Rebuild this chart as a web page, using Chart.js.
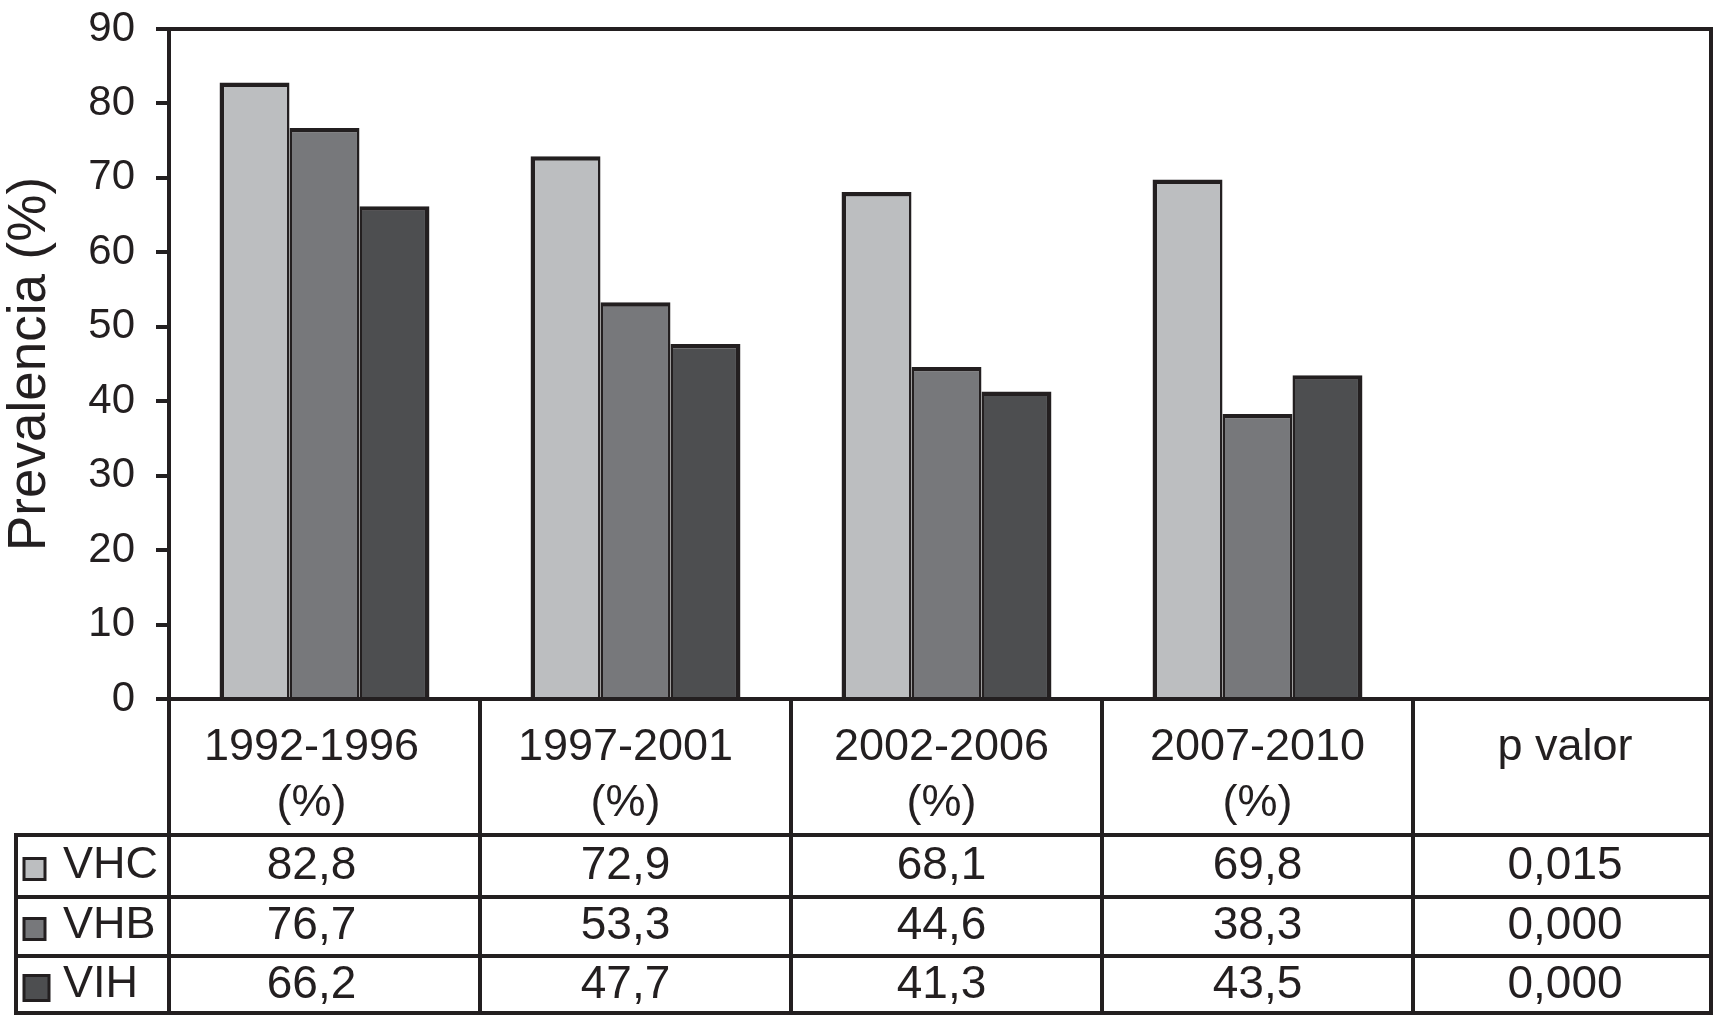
<!DOCTYPE html>
<html>
<head>
<meta charset="utf-8">
<script src="https://cdn.jsdelivr.net/npm/chart.js@4.4.1/dist/chart.umd.min.js"></script>
<style>
  html, body { margin: 0; padding: 0; background: #fff; }
  canvas { display: block; }
</style>
</head>
<body>
<canvas id="chart-prev" width="1714" height="1021" style="width:1714px;height:1021px"></canvas>
<script>
var periods = ["1992-1996", "1997-2001", "2002-2006", "2007-2010"];
var vhc = [82.8, 72.9, 68.1, 69.8];
var vhb = [76.7, 53.3, 44.6, 38.3];
var vih = [66.2, 47.7, 41.3, 43.5];
var seriesNames = ["VHC", "VHB", "VIH"];
var pValues = ["0,015", "0,000", "0,000"];
var pHeader = "p valor";
var unitLine = "(%)";

var ink = "#231f20";
var fills = ["#bcbec0", "#77787b", "#4d4e50"];
var font = "'Liberation Sans', Arial, Helvetica, sans-serif";
// el texto de la tabla no esta centrado del todo en cada columna
var textShift = [-13, -10, -5, 0];

function fmt(v) { return v.toFixed(1).replace(".", ","); }

// tabla debajo del grafico + marco
const tablePlugin = {
  id: "tablePlugin",
  afterDraw(chart) {
    const ctx = chart.ctx;
    const area = chart.chartArea;
    const x = chart.scales.x;
    const boxRight = 1711;
    const rows = [835, 897, 956, 1013];
    const tableLeft = 16;

    // limites de columnas
    const bounds = [area.left];
    for (let i = 0; i < periods.length - 1; i++) {
      bounds.push((x.getPixelForValue(i) + x.getPixelForValue(i + 1)) / 2);
    }
    bounds.push(area.right);

    ctx.save();
    ctx.strokeStyle = ink;
    ctx.lineWidth = 4;
    ctx.lineCap = "square";

    ctx.beginPath();
    // marco superior y derecho
    ctx.moveTo(area.left, area.top);
    ctx.lineTo(boxRight, area.top);
    ctx.lineTo(boxRight, rows[3]);
    // linea del cero
    ctx.moveTo(area.left, area.bottom);
    ctx.lineTo(boxRight, area.bottom);
    // eje izquierdo hasta abajo
    ctx.moveTo(area.left, area.top);
    ctx.lineTo(area.left, rows[3]);
    // columnas
    bounds.forEach(b => { ctx.moveTo(b, area.bottom); ctx.lineTo(b, rows[3]); });
    // filas
    rows.forEach(r => { ctx.moveTo(tableLeft, r); ctx.lineTo(boxRight, r); });
    ctx.moveTo(tableLeft, rows[0]);
    ctx.lineTo(tableLeft, rows[3]);
    ctx.stroke();

    ctx.fillStyle = ink;
    ctx.textAlign = "center";
    ctx.textBaseline = "middle";
    ctx.font = "45px " + font;

    periods.forEach((p, i) => {
      const cx = x.getPixelForValue(i) + textShift[i];
      ctx.fillText(p, cx, 748);
      ctx.fillText(unitLine, cx, 804);
    });
    const pCx = (area.right + boxRight) / 2 + 3;
    ctx.fillText(pHeader, pCx, 748);

    ctx.font = "46px " + font;
    const series = [vhc, vhb, vih];
    const rowMid = [866, 926, 985];
    series.forEach((s, r) => {
      s.forEach((v, i) => ctx.fillText(fmt(v), x.getPixelForValue(i) + textShift[i], rowMid[r]));
      ctx.fillText(pValues[r], pCx, rowMid[r]);
    });

    // leyenda dentro de la tabla
    ctx.textAlign = "left";
    ctx.font = "45px " + font;
    seriesNames.forEach((n, r) => {
      const sz = r === 2 ? 25 : 21;
      const sx = 24, sy = rowMid[r] + 3 - sz / 2;
      ctx.fillStyle = fills[r];
      ctx.fillRect(sx, sy, sz, sz);
      ctx.lineWidth = 3;
      ctx.strokeRect(sx, sy, sz, sz);
      ctx.fillStyle = ink;
      ctx.fillText(n, 63, rowMid[r]);
    });
    ctx.restore();
  }
};

const ctx = document.getElementById("chart-prev").getContext("2d");
new Chart(ctx, {
  type: "bar",
  data: {
    labels: periods,
    datasets: [
      { label: seriesNames[0], data: vhc, backgroundColor: fills[0], borderColor: ink,
        borderWidth: { left: 4.5, right: 2.5, top: 4.5, bottom: 0 } },
      { label: seriesNames[1], data: vhb, backgroundColor: fills[1], borderColor: ink,
        borderWidth: { left: 2.5, right: 2.5, top: 4.5, bottom: 0 } },
      { label: seriesNames[2], data: vih, backgroundColor: fills[2], borderColor: ink,
        borderWidth: { left: 2.5, right: 4.5, top: 4.5, bottom: 0 } }
    ]
  },
  options: {
    responsive: false,
    animation: false,
    devicePixelRatio: 1,
    layout: { padding: { left: 0, right: 301, top: 29, bottom: 322 } },
    datasets: { bar: { categoryPercentage: 0.675, barPercentage: 1.0, borderSkipped: false } },
    plugins: { legend: { display: false }, tooltip: { enabled: false } },
    scales: {
      x: { display: false },
      y: {
        min: 0,
        max: 90,
        ticks: { stepSize: 10, color: ink, padding: 21, font: { size: 42, family: font, lineHeight: 0.35 } },
        grid: { drawOnChartArea: false, drawTicks: true, tickLength: 13, color: ink, lineWidth: 4 },
        border: { display: true, color: ink, width: 4 },
        title: { display: true, text: "Prevalencia (%)", color: ink, padding: { top: 4, bottom: 0 },
          font: { size: 53, family: font, lineHeight: 1 } },
        afterFit: s => { s.width = 169; }
      }
    }
  },
  plugins: [tablePlugin]
});
</script>
</body>
</html>
